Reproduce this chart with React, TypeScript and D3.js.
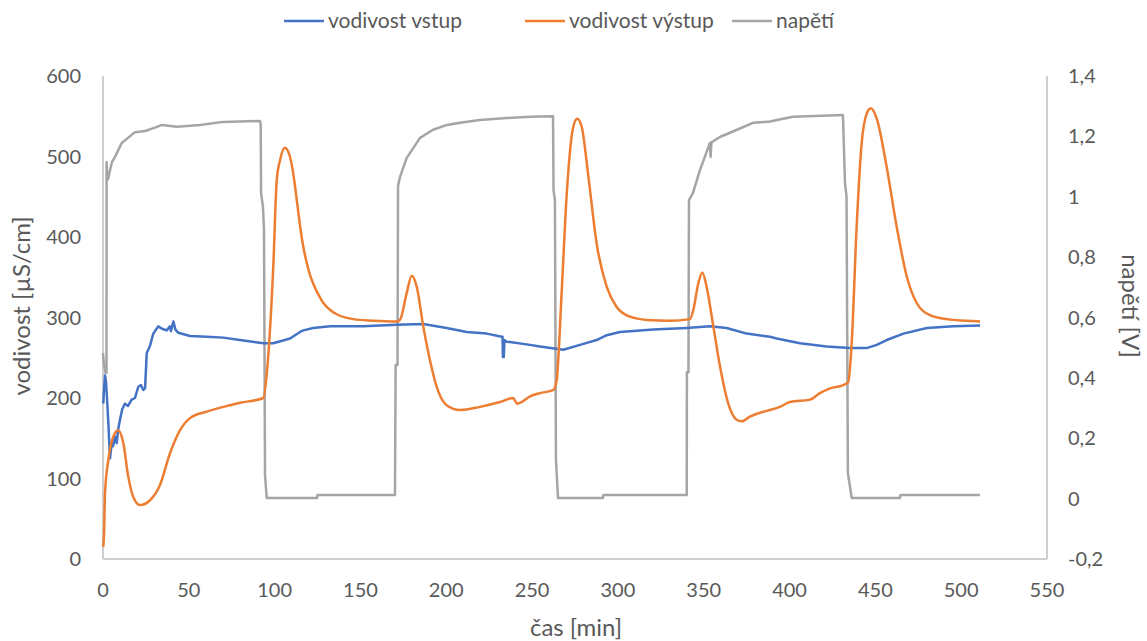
import React from "react";
import * as d3 from "d3";

// vodivost vstup (blue)
const inT = [0.17,0.58,1.17,1.75,2.33,3.09,4.08,5.07,5.83,6.99,7.98,8.74,9.9,11.2,12.8,14.5,16.7,18.6,20.6,22.1,23.5,24.5,25.5,27.4,29.3,32.2,34.4,37.1,39.0,39.6,41.0,42.2,43.9,50.7,60.5,70.1,79.8,93.4,99.2,109.0,114.8,116.7,122.5,132.3,151.7,171.1,186.6,200.2,211.9,223.6,232.3,232.8,233.0,233.5,233.9,235.2,248.8,254.6,268.2,277.9,287.6,293.5,301.2,320.6,340.1,353.6,363.3,375.0,388.6,392.5,406.1,421.6,435.2,444.9,450.8,456.6,466.4,480.0,495.5,511.0];
const inV = [193,210,228,220,200,170,125,144,140,152,144,160,173,186,193,190,198,200,214,216,210,212,256,265,280,289,286,284,289,283,295,285,281,277,276,275,272,268,268,274,282,284,287,289,289,291,292,287,282,280,276,276,251,251,272,270,266,264,260,266,272,278,282,285,287,289,287,280,276,274,268,264,262,262,266,272,280,287,289,290];

// vodivost výstup (orange)
const outT = [0.17,0.58,1.17,3.09,6.0,8.91,11.83,14.74,17.65,21.56,27.38,33.2,39.0,44.9,50.7,60.4,74.0,79.8,93.4,95.4,99.2,101.2,103.1,106.0,108.9,110.9,112.9,114.8,116.7,118.7,120.6,122.5,126.4,128.4,132.0,136.2,145.8,157.5,171.1,173.0,176.9,179.9,182.8,186.6,190.5,194.4,200.2,208.0,219.6,231.3,239.0,241.2,242.9,248.8,254.6,262.4,264.3,267.2,270.2,274.0,276.3,278.9,282.8,287.6,293.5,299.3,307.0,316.8,330.3,342.0,343.9,346.8,349.2,351.7,355.6,359.5,364.3,369.2,372.1,376.9,384.7,388.6,394.4,400.2,411.9,417.7,423.6,431.3,434.2,436.2,439.1,442.0,444.9,447.4,450.8,456.6,462.4,468.3,474.1,481.8,491.6,503.3,511.0];
const outV = [15,30,82,123,152,160,144,102,77,67,73,92,131,160,175,183,191,194,200,230,363,470,495,511,500,478,446,414,388,368,353,342,325,318,310,304,298,296,295,297,330,352,338,289,247,214,191,185,189,195,200,193,194,202,206,210,222,330,454,537,547,537,475,392,338,313,301,297,296,298,309,342,356,338,289,239,193,173,171,177,183,185,189,195,198,206,212,216,220,268,413,516,553,560,547,487,413,351,318,303,298,296,295];

// napětí (gray)
const uT = [0,0.58,1.46,2.04,2.1,2.62,3.1,5.2,7.0,10.9,14.6,18.6,24.5,30.3,34.4,43.1,56.5,69.9,91.5,91.9,92.1,93.2,93.8,94.4,95.4,124.7,125,170.1,170.5,171.6,171.9,173.0,176.9,184.7,192.3,200.4,208,219.6,235.4,248.8,262.2,262.5,263.3,263.9,265.1,291.3,291.6,340.1,340.2,341.1,341.4,343.7,347.8,353.6,354.0,354.5,359.4,369.4,378.7,388.6,392.7,402,431.1,432.3,433.2,434,436.2,464.3,464.6,511];
const uV = [0.482,0.443,0.416,0.416,1.115,1.055,1.062,1.115,1.132,1.178,1.195,1.214,1.218,1.229,1.238,1.232,1.238,1.248,1.251,1.238,1.012,0.966,0.89,0.078,0.002,0.002,0.012,0.012,0.443,0.443,1.036,1.065,1.128,1.195,1.222,1.238,1.245,1.254,1.261,1.265,1.267,1.022,0.989,0.128,0.002,0.002,0.012,0.012,0.419,0.419,0.989,1.012,1.088,1.178,1.132,1.18,1.198,1.222,1.245,1.249,1.254,1.265,1.271,1.045,1.0,0.085,0.002,0.002,0.012,0.012];

const xTicks = [0,50,100,150,200,250,300,350,400,450,500,550];
const yLTicks = [0,100,200,300,400,500,600];
const yRTicks = [-0.2,0,0.2,0.4,0.6,0.8,1.0,1.2,1.4];

const W = 1147, H = 641;
const FONT = "Lato, 'Open Sans', sans-serif";
const TXT = "#595959";

export default function App() {
  const x = d3.scaleLinear().domain([0, 550]).range([103, 1047]);
  const yL = d3.scaleLinear().domain([0, 600]).range([559, 76]);
  const yR = d3.scaleLinear().domain([-0.2, 1.4]).range([559, 76]);

  const mk = (ts: number[], vs: number[], ys: d3.ScaleLinear<number, number>, curve: d3.CurveFactory) =>
    d3.line<number>().x((_, i) => x(ts[i])).y((v) => ys(v)).curve(curve)(vs) || "";

  const pIn = mk(inT, inV, yL, d3.curveLinear);
  const pOut = mk(outT, outV, yL, d3.curveMonotoneX);
  const pU = mk(uT, uV, yR, d3.curveLinear);

  const fmtR = (v: number) => {
    const s = Math.abs(v) < 1e-9 ? "0" : (Math.round(v * 10) / 10).toString();
    return s.replace(".", ",");
  };

  const legend = [
    { label: "vodivost vstup", color: "#4472C4", x0: 284 },
    { label: "vodivost výstup", color: "#ED7D31", x0: 525 },
    { label: "napětí", color: "#A5A5A5", x0: 732 },
  ];

  return (
    <svg width={W} height={H} style={{ position: "absolute", left: 0, top: 0, background: "#fff" }} fontFamily={FONT}>
      <rect width={W} height={H} fill="#fff" />
      <line x1={103} x2={1047} y1={559} y2={559} stroke="#BFBFBF" strokeWidth={1.5} />
      <line x1={103} x2={103} y1={76} y2={559} stroke="#BFBFBF" strokeWidth={1.5} />
      <line x1={1047} x2={1047} y1={76} y2={559} stroke="#BFBFBF" strokeWidth={1.5} />

      {xTicks.map((t) => (
        <text key={"x" + t} x={x(t)} y={597} textAnchor="middle" fontSize={20} fill={TXT}>{t}</text>
      ))}
      {yLTicks.map((t) => (
        <text key={"l" + t} x={81} y={yL(t) + 7} textAnchor="end" fontSize={20} fill={TXT}>{t}</text>
      ))}
      {yRTicks.map((t) => (
        <text key={"r" + t} x={1068} y={yR(t) + 7} textAnchor="start" fontSize={20} fill={TXT}>{fmtR(t)}</text>
      ))}

      <text x={576} y={636} textAnchor="middle" fontSize={24} fill={TXT}>čas [min]</text>
      <text transform={`translate(30,${306}) rotate(-90)`} textAnchor="middle" fontSize={24} fill={TXT}>vodivost [µS/cm]</text>
      <text transform={`translate(1122,${306}) rotate(90)`} textAnchor="middle" fontSize={24} fill={TXT}>napětí [V]</text>

      <path d={pU} fill="none" stroke="#A5A5A5" strokeWidth={2.5} strokeLinejoin="round" />
      <path d={pIn} fill="none" stroke="#4472C4" strokeWidth={2.5} strokeLinejoin="round" />
      <path d={pOut} fill="none" stroke="#ED7D31" strokeWidth={2.5} strokeLinejoin="round" />

      {legend.map((l) => (
        <g key={l.label}>
          <line x1={l.x0} x2={l.x0 + 40} y1={21} y2={21} stroke={l.color} strokeWidth={2.5} />
          <text x={l.x0 + 44} y={28} fontSize={21} fill={TXT}>{l.label}</text>
        </g>
      ))}
    </svg>
  );
}
